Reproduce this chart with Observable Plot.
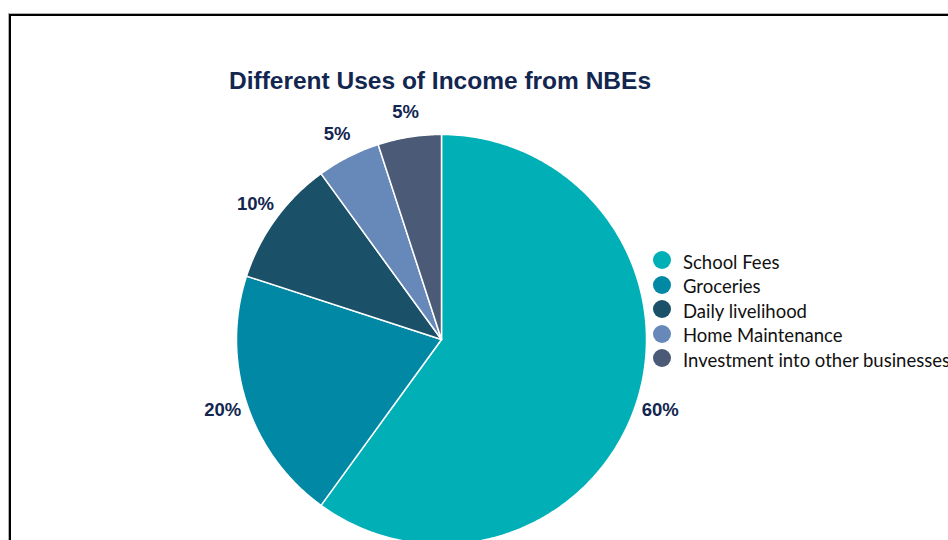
<!DOCTYPE html>
<html>
<head>
<meta charset="utf-8">
<script src="https://cdn.jsdelivr.net/npm/d3@7"></script>
<script src="https://cdn.jsdelivr.net/npm/@observablehq/plot@0.6"></script>
<style>
  html, body { margin: 0; padding: 0; background: #fff; overflow: hidden; }
  #wrap { position: relative; width: 948px; height: 540px; overflow: hidden; }
  #frame { position: absolute; left: 9px; top: 14px; width: 1200px; height: 1000px;
           border: 2px solid #000; box-shadow: -1px -1px 0 #b0b0b0; }
  #chart { position: absolute; left: 0; top: 0; }
  #title { position: absolute; left: 140px; width: 600px; top: 66.5px; text-align: center;
           font: bold 24.5px "Liberation Sans", Arial, sans-serif; line-height: 28px; color: #13264f; }
  #legend { position: absolute; left: 653px; top: 247.75px; font: 18.5px Lato, "Open Sans", sans-serif; color: #111; }
  #legend .row { height: 24.5px; display: flex; align-items: center; white-space: nowrap; }
  #legend .sw { width: 18px; height: 18px; border-radius: 50%; margin-right: 12px; flex: none; }
  #legend .tx { position: relative; top: 1.5px; }
</style>
</head>
<body>
<div id="wrap">
  <div id="frame"></div>
  <div id="chart"></div>
  <div id="title">Different Uses of Income from NBEs</div>
  <div id="legend"></div>
</div>
<script>
const categories = ["School Fees", "Groceries", "Daily livelihood", "Home Maintenance", "Investment into other businesses"];
const shares = [60, 20, 10, 5, 5];
const valueLabels = ["60%", "20%", "10%", "5%", "5%"];
const colors = ["#01b0b6", "#0088a4", "#1a5068", "#6789b9", "#4b5a76"];

const W = 948, H = 540, cx = 441, cy = 339, R = 205, labelR = 230;

const arcs = d3.pie().sort(null).startAngle(0).endAngle(2 * Math.PI)(shares);

const slicePts = [];
arcs.forEach((a, i) => {
  const cat = categories[i];
  slicePts.push({cat, x: 0, y: 0});
  const n = Math.max(2, Math.ceil((a.endAngle - a.startAngle) / (Math.PI / 360)));
  for (let k = 0; k <= n; k++) {
    const t = a.startAngle + (a.endAngle - a.startAngle) * k / n;
    slicePts.push({cat, x: Math.sin(t), y: -Math.cos(t)});
  }
  slicePts.push({cat, x: 0, y: 0});
});

const labelPts = arcs.map((a, i) => {
  const m = (a.startAngle + a.endAngle) / 2;
  return {label: valueLabels[i], x: Math.sin(m) * labelR / R, y: -Math.cos(m) * labelR / R};
});

const chart = Plot.plot({
  width: W,
  height: H,
  margin: 0,
  x: {domain: [-cx / R, (W - cx) / R], range: [0, W], axis: null},
  y: {domain: [-cy / R, (H - cy) / R], range: [0, H], axis: null},
  color: {domain: categories, range: colors},
  style: {background: "transparent", fontFamily: "'Liberation Sans', Arial, sans-serif", overflow: "visible"},
  marks: [
    Plot.line(slicePts, {x: "x", y: "y", z: "cat", fill: "cat", stroke: "#ffffff", strokeWidth: 1.5, strokeLinejoin: "round"}),
    Plot.text(labelPts, {x: "x", y: "y", text: "label", fill: "#13264f", fontSize: 18.5, fontWeight: "bold", textAnchor: "middle", lineAnchor: "middle"})
  ]
});
document.getElementById("chart").appendChild(chart);

const legend = document.getElementById("legend");
categories.forEach((c, i) => {
  const row = document.createElement("div");
  row.className = "row";
  const sw = document.createElement("span");
  sw.className = "sw";
  sw.style.background = colors[i];
  const tx = document.createElement("span");
  tx.className = "tx";
  tx.textContent = c;
  row.appendChild(sw);
  row.appendChild(tx);
  legend.appendChild(row);
});
</script>
</body>
</html>
